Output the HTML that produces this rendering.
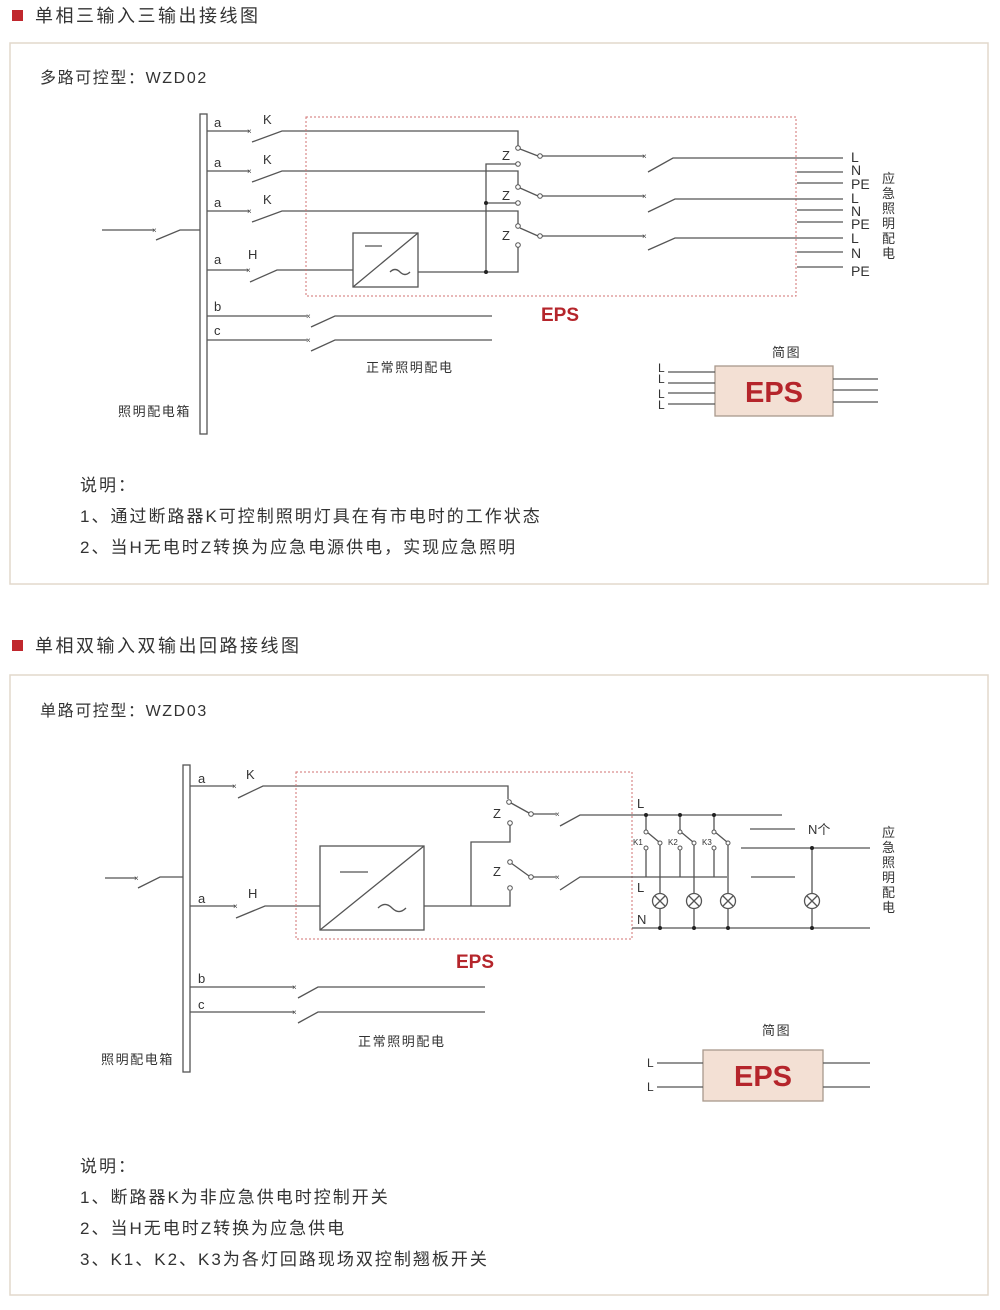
<!DOCTYPE html>
<html><head><meta charset="utf-8"><style>
html,body{margin:0;padding:0;background:#fff;}
svg{display:block;}
text{font-family:"Liberation Sans","Noto Sans CJK SC",sans-serif;fill:#333;}
.l{stroke:#555;stroke-width:1.3;fill:none;}
.d{stroke:#d07070;stroke-width:1;stroke-dasharray:2,2;fill:none;}
.c{stroke:#555;stroke-width:1;fill:#fff;}
.x{font-size:8px;fill:#444;}
.red{fill:#b5252b;font-weight:bold;}
.h{letter-spacing:2.5px;}
.n{letter-spacing:2px;}
.s{letter-spacing:1.6px;}
</style></head><body>
<svg width="1000" height="1310" viewBox="0 0 1000 1310" xmlns="http://www.w3.org/2000/svg">
<rect x="12" y="10" width="11" height="11" fill="#c0272d"/>
<text x="35" y="22" font-size="18" class="h">单相三输入三输出接线图</text>
<rect x="10" y="43" width="978" height="541" fill="none" stroke="#e2d8cc" stroke-width="1.5"/>
<rect x="12" y="640" width="11" height="11" fill="#c0272d"/>
<text x="35" y="652" font-size="18" class="h">单相双输入双输出回路接线图</text>
<rect x="10" y="675" width="978" height="620" fill="none" stroke="#e2d8cc" stroke-width="1.5"/>

<text x="40" y="83" font-size="16" class="s">多路可控型：WZD02</text>
<text x="40" y="716" font-size="16" class="s">单路可控型：WZD03</text>

<!-- ===== Diagram 1 ===== -->
<rect x="200" y="114" width="7" height="320" class="l"/>
<path class="l" d="M102 230H154M156 240L180 230H200"/>
<text class="x" x="152" y="233">×</text>
<g font-size="13">
<text x="214" y="127">a</text><text x="263" y="124">K</text>
<text x="214" y="167">a</text><text x="263" y="164">K</text>
<text x="214" y="207">a</text><text x="263" y="204">K</text>
<text x="214" y="264">a</text><text x="248" y="259">H</text>
<text x="214" y="311">b</text><text x="214" y="335">c</text>
<text x="502" y="160">Z</text><text x="502" y="200">Z</text><text x="502" y="240">Z</text>
</g>
<path class="l" d="M207 131H249M252 142L282 131H518V146"/>
<path class="l" d="M207 171H249M252 182L282 171H518V185"/>
<path class="l" d="M207 211H249M252 222L282 211H518V224"/>
<path class="l" d="M207 270H248M250 282L277 270H353"/>
<text class="x" x="247" y="134">×</text><text class="x" x="247" y="174">×</text><text class="x" x="247" y="214">×</text><text class="x" x="246" y="273">×</text>
<path class="l" d="M520 149L538 156M542 156H644"/>
<path class="l" d="M520 188L538 196M542 196H644"/>
<path class="l" d="M520 228L538 236M542 236H644"/>
<path class="l" d="M516 164H486V272M516 203H486M518 247V272H418"/>
<g class="c">
<circle cx="518" cy="148" r="2.3"/><circle cx="540" cy="156" r="2.3"/><circle cx="518" cy="164" r="2.3"/>
<circle cx="518" cy="187" r="2.3"/><circle cx="540" cy="196" r="2.3"/><circle cx="518" cy="203" r="2.3"/>
<circle cx="518" cy="226" r="2.3"/><circle cx="540" cy="236" r="2.3"/><circle cx="518" cy="245" r="2.3"/>
</g>
<circle cx="486" cy="203" r="2" fill="#222"/><circle cx="486" cy="272" r="2" fill="#222"/>
<text class="x" x="642" y="159">×</text><text class="x" x="642" y="199">×</text><text class="x" x="642" y="239">×</text>
<rect x="353" y="233" width="65" height="54" class="l"/>
<path class="l" d="M353 287L418 233M365 246H382M390 272q5 -5 10 0t10 0"/>
<rect x="306" y="117" width="490" height="179" class="d"/>
<path class="l" d="M648 172L673 158H843M648 212L675 199H843M648 250L675 238H843"/>
<path class="l" d="M797 172H843M797 183H843M797 210H843M797 222H843M797 252H843M797 267H843"/>
<g font-size="14">
<text x="851" y="162">L</text><text x="851" y="175">N</text><text x="851" y="189">PE</text>
<text x="851" y="203">L</text><text x="851" y="216">N</text><text x="851" y="229">PE</text>
<text x="851" y="243">L</text><text x="851" y="258">N</text><text x="851" y="276">PE</text>
</g>
<g font-size="13"><text x="882" y="183">应</text><text x="882" y="198">急</text><text x="882" y="213">照</text><text x="882" y="228">明</text><text x="882" y="243">配</text><text x="882" y="258">电</text></g>
<path class="l" d="M207 316H307M311 327L335 316H492M207 340H307M311 351L335 340H492"/>
<text class="x" x="306" y="319">×</text><text class="x" x="306" y="343">×</text>
<text x="366" y="372" font-size="13" class="s">正常照明配电</text>
<text x="118" y="416" font-size="13" class="s">照明配电箱</text>
<text x="541" y="321" font-size="19" class="red">EPS</text>
<text x="772" y="357" font-size="13" class="s">简图</text>
<rect x="715" y="366" width="118" height="50" fill="#f3e0d4" stroke="#a9998c" stroke-width="1.3"/>
<text x="774" y="402" font-size="29" text-anchor="middle" class="red">EPS</text>
<path class="l" d="M668 372H715M668 383H715M668 393H715M668 404H715M833 379H878M833 390H878M833 402H878"/>
<g font-size="12"><text x="658" y="372">L</text><text x="658" y="383">L</text><text x="658" y="398">L</text><text x="658" y="409">L</text></g>
<g font-size="17" class="n">
<text x="80" y="491">说明：</text>
<text x="80" y="522">1、通过断路器K可控制照明灯具在有市电时的工作状态</text>
<text x="80" y="553">2、当H无电时Z转换为应急电源供电，实现应急照明</text>
</g>

<!-- ===== Diagram 2 ===== -->
<rect x="183" y="765" width="7" height="307" class="l"/>
<path class="l" d="M105 878H136M138 888L160 877H183"/>
<text class="x" x="134" y="881">×</text>
<g font-size="13">
<text x="198" y="783">a</text><text x="246" y="779">K</text>
<text x="198" y="903">a</text><text x="248" y="898">H</text>
<text x="198" y="983">b</text><text x="198" y="1009">c</text>
<text x="493" y="818">Z</text><text x="493" y="876">Z</text>
</g>
<path class="l" d="M190 786H234M238 798L263 786H508V799"/>
<text class="x" x="232" y="789">×</text>
<path class="l" d="M190 906H235M236 918L265 906H320"/>
<text class="x" x="233" y="909">×</text>
<rect x="320" y="846" width="104" height="84" class="l"/>
<path class="l" d="M320 930L424 846M340 872H368M378 908q7 -7 14 0t14 0"/>
<path class="l" d="M424 906H510V891M510 825V842H471V906"/>
<path class="l" d="M511 803L529 813M533 814H556M511 863L529 876M533 877H556"/>
<g class="c">
<circle cx="509" cy="802" r="2.3"/><circle cx="531" cy="814" r="2.3"/><circle cx="510" cy="823" r="2.3"/>
<circle cx="510" cy="862" r="2.3"/><circle cx="531" cy="877" r="2.3"/><circle cx="510" cy="888" r="2.3"/>
</g>
<text class="x" x="555" y="817">×</text><text class="x" x="555" y="880">×</text>
<rect x="296" y="772" width="336" height="167" class="d"/>
<path class="l" d="M560 826L580 815H782M560 890L580 877H727"/>
<g font-size="13"><text x="637" y="808">L</text><text x="637" y="892">L</text><text x="637" y="924">N</text></g>
<path class="l" d="M646 815V830M647 832L659 842M660 845V893M660 909V928M646 850V877"/>
<path class="l" d="M680 815V830M681 832L693 842M694 845V893M694 909V928M680 850V877"/>
<path class="l" d="M714 815V830M715 832L727 842M728 845V893M728 909V928M714 850V877"/>
<g class="c">
<circle cx="646" cy="832" r="2"/><circle cx="660" cy="843" r="2"/><circle cx="646" cy="848" r="2"/>
<circle cx="680" cy="832" r="2"/><circle cx="694" cy="843" r="2"/><circle cx="680" cy="848" r="2"/>
<circle cx="714" cy="832" r="2"/><circle cx="728" cy="843" r="2"/><circle cx="714" cy="848" r="2"/>
</g>
<g font-size="8"><text x="633" y="845">K1</text><text x="668" y="845">K2</text><text x="702" y="845">K3</text></g>
<g class="l">
<circle cx="660" cy="901" r="7.5"/><path d="M655 896l10 10M665 896l-10 10"/>
<circle cx="694" cy="901" r="7.5"/><path d="M689 896l10 10M699 896l-10 10"/>
<circle cx="728" cy="901" r="7.5"/><path d="M723 896l10 10M733 896l-10 10"/>
<circle cx="812" cy="901" r="7.5"/><path d="M807 896l10 10M817 896l-10 10"/>
</g>
<path class="l" d="M632 928H870M750 829H795M741 848H870M812 848V893M812 909V928M751 877H795"/>
<g fill="#222">
<circle cx="646" cy="815" r="2"/><circle cx="680" cy="815" r="2"/><circle cx="714" cy="815" r="2"/>
<circle cx="660" cy="928" r="2"/><circle cx="694" cy="928" r="2"/><circle cx="728" cy="928" r="2"/><circle cx="812" cy="928" r="2"/>
<circle cx="812" cy="848" r="2"/>
</g>
<text x="808" y="834" font-size="13">N个</text>
<g font-size="13"><text x="882" y="837">应</text><text x="882" y="852">急</text><text x="882" y="867">照</text><text x="882" y="882">明</text><text x="882" y="897">配</text><text x="882" y="912">电</text></g>
<path class="l" d="M190 987H294M298 998L318 987H485M190 1012H294M298 1023L318 1012H485"/>
<text class="x" x="292" y="990">×</text><text class="x" x="292" y="1015">×</text>
<text x="358" y="1046" font-size="13" class="s">正常照明配电</text>
<text x="101" y="1064" font-size="13" class="s">照明配电箱</text>
<text x="456" y="968" font-size="19" class="red">EPS</text>
<text x="762" y="1035" font-size="13" class="s">简图</text>
<rect x="703" y="1050" width="120" height="51" fill="#f3e0d4" stroke="#a9998c" stroke-width="1.3"/>
<text x="763" y="1086" font-size="29" text-anchor="middle" class="red">EPS</text>
<path class="l" d="M657 1063H703M657 1087H703M823 1063H870M823 1087H870"/>
<g font-size="12"><text x="647" y="1067">L</text><text x="647" y="1091">L</text></g>
<g font-size="17" class="n">
<text x="80" y="1172">说明：</text>
<text x="80" y="1203">1、断路器K为非应急供电时控制开关</text>
<text x="80" y="1234">2、当H无电时Z转换为应急供电</text>
<text x="80" y="1265">3、K1、K2、K3为各灯回路现场双控制翘板开关</text>
</g>
</svg>
</body></html>
